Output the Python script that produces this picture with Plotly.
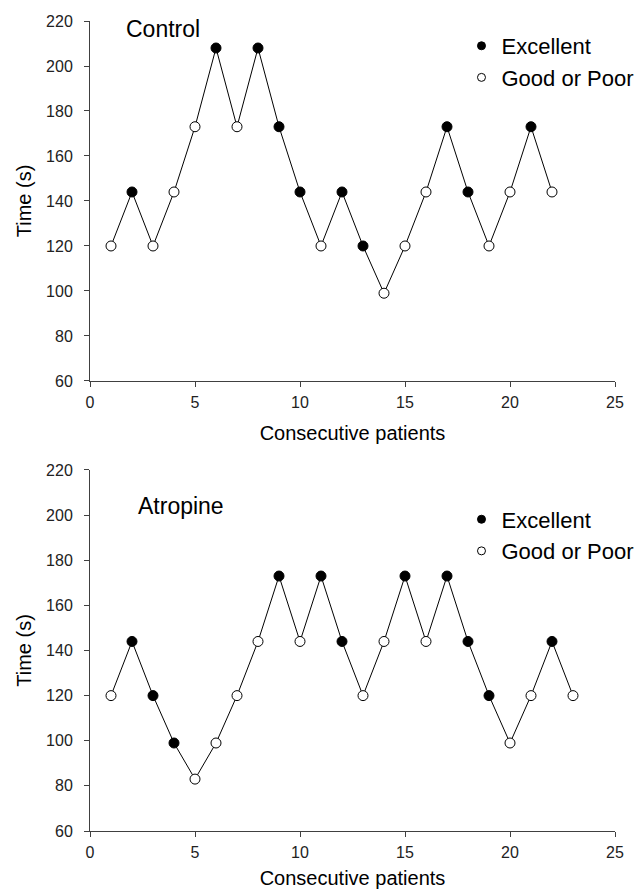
import plotly.graph_objects as go

# Control group
control_x = list(range(1, 23))
control_y = [120, 144, 120, 144, 173, 208, 173, 208, 173, 144, 120, 144, 120, 99, 120, 144, 173, 144, 120, 144, 173, 144]
control_excellent = [0, 1, 0, 0, 0, 1, 0, 1, 1, 1, 0, 1, 1, 0, 0, 0, 1, 1, 0, 0, 1, 0]

# Atropine group
atropine_x = list(range(1, 24))
atropine_y = [120, 144, 120, 99, 83, 99, 120, 144, 173, 144, 173, 144, 120, 144, 173, 144, 173, 144, 120, 99, 120, 144, 120]
atropine_excellent = [0, 1, 1, 1, 0, 0, 0, 0, 1, 0, 1, 1, 0, 0, 1, 0, 1, 1, 1, 0, 0, 1, 0]

y_ticks = [60, 80, 100, 120, 140, 160, 180, 200, 220]
x_ticks = [0, 5, 10, 15, 20, 25]

FONT = "Liberation Sans, Arial, sans-serif"
fig = go.Figure()

panels = [
    ("Control", control_x, control_y, control_excellent, "x", "y", "legend"),
    ("Atropine", atropine_x, atropine_y, atropine_excellent, "x2", "y2", "legend2"),
]

for name, xs, ys, exc, xa, ya, lg in panels:
    fig.add_trace(go.Scatter(x=xs, y=ys, mode="lines", line=dict(color="black", width=1),
                             showlegend=False, xaxis=xa, yaxis=ya, hoverinfo="skip"))
    ex_x = [x for x, e in zip(xs, exc) if e]
    ex_y = [y for y, e in zip(ys, exc) if e]
    go_x = [x for x, e in zip(xs, exc) if not e]
    go_y = [y for y, e in zip(ys, exc) if not e]
    fig.add_trace(go.Scatter(x=ex_x, y=ex_y, mode="markers", name="Excellent", showlegend=False,
                             marker=dict(size=10, color="black", line=dict(color="black", width=1)),
                             xaxis=xa, yaxis=ya))
    fig.add_trace(go.Scatter(x=go_x, y=go_y, mode="markers", name="Good or Poor", showlegend=False,
                             marker=dict(size=10, color="white", line=dict(color="black", width=1)),
                             xaxis=xa, yaxis=ya))
    # legend entries (smaller symbols as in the reference)
    fig.add_trace(go.Scatter(x=[None], y=[None], mode="markers", name="Excellent",
                             marker=dict(size=8, color="black", line=dict(color="black", width=1)),
                             xaxis=xa, yaxis=ya, legend=lg))
    fig.add_trace(go.Scatter(x=[None], y=[None], mode="markers", name="Good or Poor",
                             marker=dict(size=8, color="white", line=dict(color="black", width=1)),
                             xaxis=xa, yaxis=ya, legend=lg))

axis_common = dict(showline=True, linecolor="#404040", linewidth=1, ticks="outside",
                   ticklen=5, tickcolor="#404040", showgrid=False, zeroline=False,
                   automargin=False, tickfont=dict(family=FONT, size=16, color="#222"))

def xtitle(standoff):
    return dict(text="Consecutive patients", font=dict(size=20, family=FONT), standoff=standoff)

yt = dict(text="Time (s)", font=dict(size=20, family=FONT), standoff=9)

legend_common = dict(xref="container", yref="container", xanchor="left", yanchor="top",
                     bgcolor="rgba(0,0,0,0)", font=dict(size=22, family=FONT),
                     itemwidth=30, tracegroupgap=0)

fig.update_layout(
    width=644, height=889,
    margin=dict(l=90, r=29, t=21, b=58, autoexpand=False),
    paper_bgcolor="white", plot_bgcolor="white",
    font=dict(family=FONT, color="black"),
    xaxis=dict(domain=[0, 1], range=[0, 25], tickvals=x_ticks, anchor="y", ticklabelstandoff=2,
               title=xtitle(15), **axis_common),
    yaxis=dict(domain=[0.5556, 1], range=[60, 220], tickvals=y_ticks, anchor="x", ticklabelstandoff=8,
               title=yt, **axis_common),
    xaxis2=dict(domain=[0, 1], range=[0, 25], tickvals=x_ticks, anchor="y2", ticklabelstandoff=2,
                title=xtitle(11), **axis_common),
    yaxis2=dict(domain=[0, 0.4457], range=[60, 220], tickvals=y_ticks, anchor="x2", ticklabelstandoff=8,
                title=yt, **axis_common),
    legend=dict(x=0.7166, y=0.9719, **legend_common),
    legend2=dict(x=0.7166, y=0.4393, **legend_common),
    annotations=[
        dict(text="Control", xref="x", yref="y", x=1.6, y=216.5, xanchor="left", yanchor="middle",
             showarrow=False, font=dict(size=23, family=FONT)),
        dict(text="Atropine", xref="x2", yref="y2", x=2.2, y=204, xanchor="left", yanchor="middle",
             showarrow=False, font=dict(size=23, family=FONT)),
    ],
)

fig.write_html("out.html", config={"displayModeBar": False},
               post_script="document.body.style.margin='0';document.body.style.overflow='hidden';")
